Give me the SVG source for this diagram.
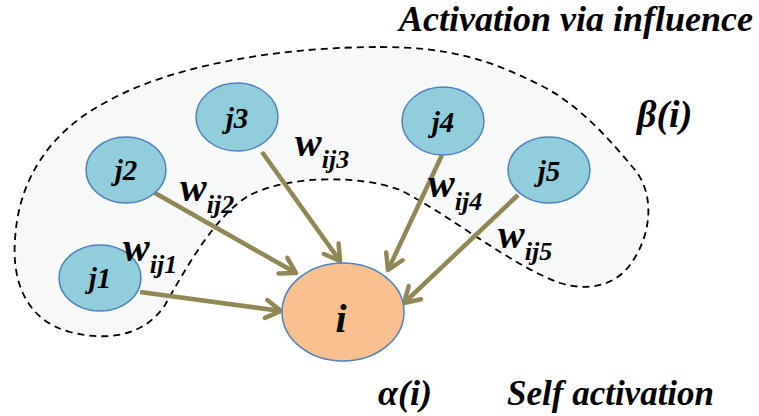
<svg xmlns="http://www.w3.org/2000/svg" width="759" height="416" viewBox="0 0 759 416">
<style>
text{font-family:'Liberation Serif','Times New Roman','DejaVu Serif',serif;font-weight:700;font-style:italic;fill:#000}
.nj{fill:#92cddc;stroke:#4f81bd;stroke-width:1.5}
.ni{fill:#fac090;stroke:#4f81bd;stroke-width:1.5}
.edge{stroke:#8f8756;stroke-width:4.5;fill:none;marker-end:url(#arr)}
.w{font-size:40px}
.sub{font-size:26px}
.nl{font-size:29px}
</style>
<defs>
<marker id="arr" markerUnits="userSpaceOnUse" markerWidth="30" markerHeight="30" viewBox="-20 -15 30 30" refX="0" refY="0" orient="auto">
<path d="M -15,-9 L 0,0 L -15,9" fill="none" stroke="#8f8756" stroke-width="4.5" stroke-linecap="round" stroke-linejoin="round"/>
</marker>
</defs>
<rect width="759" height="416" fill="#fff"/>
<g id="region">
<path d="M 380,47 C 450,47 490,60 540,85 C 580,105 610,140 635,170 C 655,195 652,235 630,265 C 615,285 590,292 560,283 C 510,265 450,215 400,190 C 360,175 290,175 250,195 C 215,215 185,270 165,305 C 145,335 110,342 70,332 C 25,320 12,280 15,240 C 18,180 50,130 110,100 C 180,62 290,47 380,47 Z" fill="#f7f8f8" stroke="#000" stroke-width="1.8" stroke-dasharray="7,5"/>
</g>
<g id="connectors">
<line class="edge" x1="140" y1="292" x2="281" y2="311"/>
<line class="edge" x1="155" y1="193" x2="296" y2="273"/>
<line class="edge" x1="262" y1="152" x2="340" y2="261"/>
<line class="edge" x1="442" y1="155" x2="388" y2="270"/>
<line class="edge" x1="518" y1="195" x2="404" y2="303"/>
</g>
<g id="node-j1"><ellipse class="nj" cx="100" cy="278" rx="41" ry="33"/><text class="nl" x="100" y="288" text-anchor="middle">j1</text></g>
<g id="node-j2"><ellipse class="nj" cx="126" cy="170" rx="40" ry="33"/><text class="nl" x="126" y="180" text-anchor="middle">j2</text></g>
<g id="node-j3"><ellipse class="nj" cx="237" cy="117" rx="41" ry="34"/><text class="nl" x="237" y="128" text-anchor="middle">j3</text></g>
<g id="node-j4"><ellipse class="nj" cx="443" cy="121" rx="41" ry="34"/><text class="nl" x="443" y="132" text-anchor="middle">j4</text></g>
<g id="node-j5"><ellipse class="nj" cx="549" cy="170" rx="41" ry="33"/><text class="nl" x="549" y="181" text-anchor="middle">j5</text></g>
<g id="node-i"><ellipse class="ni" cx="343" cy="312" rx="61" ry="49"/><text x="341" y="332" font-size="40" text-anchor="middle">i</text></g>
<g id="labels">
<text x="295" y="156"><tspan class="w">w</tspan><tspan class="sub" dy="12">ij3</tspan></text>
<text x="180" y="201"><tspan class="w">w</tspan><tspan class="sub" dy="12">ij2</tspan></text>
<text x="123" y="261"><tspan class="w">w</tspan><tspan class="sub" dy="12">ij1</tspan></text>
<text x="428" y="197"><tspan class="w">w</tspan><tspan class="sub" dy="13">ij4</tspan></text>
<text x="498" y="248"><tspan class="w">w</tspan><tspan class="sub" dy="12">ij5</tspan></text>
<text x="753" y="31" font-size="36" text-anchor="end">Activation via influence</text>
<text x="637" y="127" font-size="38">β(i)</text>
<text x="378" y="405" font-size="36">α(i)</text>
<text x="507" y="405" font-size="35">Self activation</text>
</g>
</svg>
